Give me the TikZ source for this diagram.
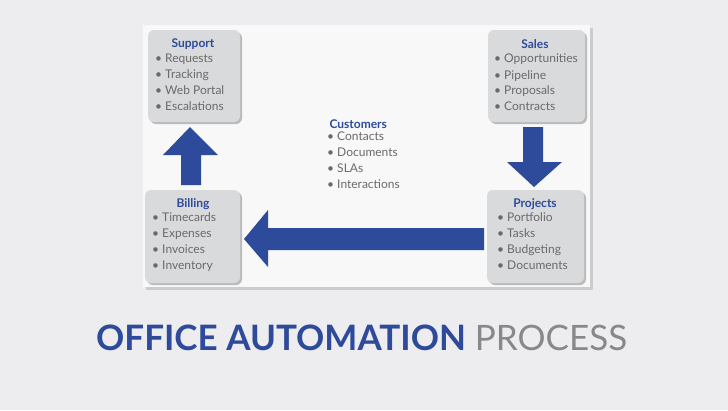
\documentclass[tikz,border=0pt]{standalone}
\usepackage{fontspec}
\setmainfont{Lato}
\usetikzlibrary{shadows}
\definecolor{bl}{HTML}{2E4A9A}
\definecolor{tx}{HTML}{6A6A6A}
\definecolor{bx}{HTML}{D9DADC}
\definecolor{bg}{HTML}{EDEDEF}
\begin{document}
\begin{tikzpicture}[x=1pt,y=-1pt,
  box/.style={draw=none,fill=bx,rounded corners=6pt,drop shadow={shadow xshift=2pt,shadow yshift=-2pt,opacity=0.5}},
  ttl/.style={text=bl,font=\bfseries\fontsize{12}{13}\selectfont,anchor=center},
  itm/.style={text=tx,font=\fontsize{12}{16}\selectfont,anchor=north west,align=left,inner sep=0pt},
  arr/.style={fill=bl,draw=none}]
\useasboundingbox (0,0) rectangle (728,410);
\fill[bg] (0,0) rectangle (728,410);
\fill[white!60!bg,drop shadow={opacity=0.3}] (143,25) rectangle (590,287);
\path[box] (148,30) rectangle (240,122);
\path[box] (488,30) rectangle (585,122);
\path[box] (145,190) rectangle (240,283);
\path[box] (487,190) rectangle (584,283);
\node[ttl] (st) at (193,44) {Support};
\node[itm] (si) at (155,54) {• Requests\\• Tracking\\• Web Portal\\• Escalations};
\node[ttl] (sat) at (535,44) {Sales};
\node[itm] (sai) at (494,54) {• Opportunities\\• Pipeline\\• Proposals\\• Contracts};
\node[ttl] (bt) at (193,204) {Billing};
\node[itm] (bi) at (152,212) {• Timecards\\• Expenses\\• Invoices\\• Inventory};
\node[ttl] (pt) at (535,204) {Projects};
\node[itm] (pi) at (497,212) {• Portfolio\\• Tasks\\• Budgeting\\• Documents};
\node[ttl,anchor=west] (ct) at (326,124) {Customers};
\node[itm] (ci) at (327,132) {• Contacts\\• Documents\\• SLAs\\• Interactions};
\fill[arr] (181,185) -- (181,155) -- (163,155) -- (190,127) -- (218,155) -- (201,155) -- (201,185) -- cycle;
\fill[arr] (523,127) -- (543,127) -- (543,162) -- (562,162) -- (534,187) -- (507,162) -- (523,162) -- cycle;
\fill[arr] (484,228) -- (268,228) -- (268,210) -- (244,239) -- (268,267) -- (268,250) -- (484,250) -- cycle;
\node[anchor=west,inner sep=0pt,font=\fontsize{35}{38}\selectfont] (title) at (96,338) {\textcolor{bl}{\bfseries OFFICE AUTOMATION} \textcolor{tx!80}{PROCESS}};
\end{tikzpicture}
\end{document}
